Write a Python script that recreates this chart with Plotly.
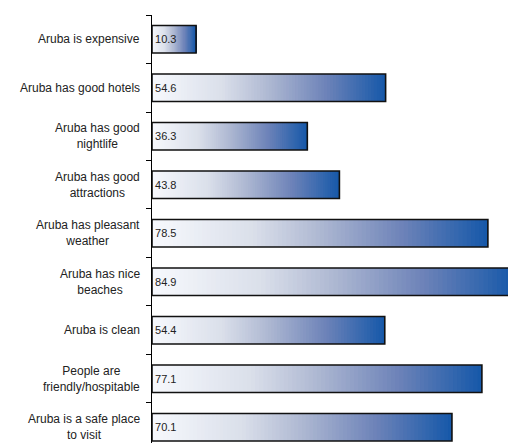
import plotly.graph_objects as go
import plotly.colors as pc

categories = [
    "Aruba is expensive",
    "Aruba has good hotels",
    "Aruba has good<br>nightlife",
    "Aruba has good<br>attractions",
    "Aruba has pleasant<br>weather",
    "Aruba has nice<br>beaches",
    "Aruba is clean",
    "People are<br>friendly/hospitable",
    "Aruba is a safe place<br>to visit",
]
values = [10.3, 54.6, 36.3, 43.8, 78.5, 84.9, 54.4, 77.1, 70.1]

scale = [
    [0.0, "#f7f9fd"],
    [0.3, "#dadfea"],
    [0.5, "#aeb8d2"],
    [0.75, "#6c82b8"],
    [1.0, "#1558a9"],
]

N = 80
fig = go.Figure()
for i in range(N):
    col = pc.sample_colorscale(scale, [(i + 0.5) / N])[0]
    fig.add_trace(go.Bar(
        y=categories,
        x=[v * (min(i + 2, N) - i) / N for v in values],
        base=[v * i / N for v in values],
        orientation="h",
        marker=dict(color=col, line=dict(width=0)),
        hoverinfo="skip",
        showlegend=False,
    ))

fig.add_trace(go.Bar(
    y=categories,
    x=values,
    orientation="h",
    marker=dict(color="rgba(0,0,0,0)", line=dict(color="#111111", width=1.6)),
    text=[f"{v:.1f}" for v in values],
    textposition="inside",
    insidetextanchor="start",
    textfont=dict(family="Liberation Sans, Arial, sans-serif", size=11, color="#222222"),
    showlegend=False,
))

for c in categories:
    fig.add_annotation(
        x=-0.028, xref="paper", y=c, yref="y",
        text=c, showarrow=False, xanchor="right", align="center",
        font=dict(family="Liberation Sans, Arial, sans-serif", size=12, color="#222222"),
    )

fig.update_layout(
    width=508, height=443,
    margin=dict(l=152, r=0, t=15, b=0, autoexpand=False),
    barmode="overlay",
    bargap=0.433,
    plot_bgcolor="white",
    paper_bgcolor="white",
    xaxis=dict(range=[0, 83.2], visible=False),
    yaxis=dict(
        range=[8.325, -0.5],
        showline=True, linecolor="black", linewidth=1,
        ticks="outside", ticklen=5, tickcolor="black", tickson="boundaries",
        showticklabels=False, showgrid=False, zeroline=False,
    ),
)

fig.write_html("out.html", config={"displayModeBar": False},
               post_script="document.body.style.margin='0';")
